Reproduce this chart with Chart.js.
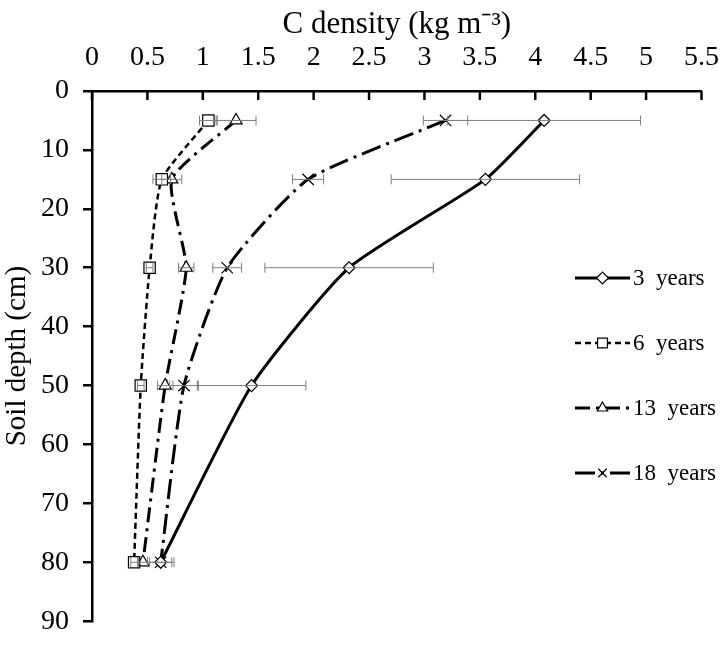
<!DOCTYPE html>
<html>
<head>
<meta charset="utf-8">
<script src="https://cdn.jsdelivr.net/npm/chart.js@4.4.1/dist/chart.umd.min.js"></script>
<style>
html, body { margin: 0; padding: 0; background: #fff; }
</style>
</head>
<body>
<canvas id="myChart" width="728" height="652"></canvas>
<script>
// soil depth (cm) of each sampling layer
const depths = [5, 15, 30, 50, 80];
const seriesNames = ['3  years', '6  years', '13  years', '18  years'];

// C density (kg m-3) and error (+/-) per stand age
const density3 = [4.08, 3.55, 2.32, 1.44, 0.62];
const error3 = [0.87, 0.85, 0.76, 0.49, 0.10];
const density6 = [1.05, 0.63, 0.52, 0.44, 0.38];
const error6 = [0.08, 0.08, 0.03, 0.03, 0.03];
const density13 = [1.30, 0.72, 0.85, 0.66, 0.46];
const error13 = [0.18, 0.09, 0.07, 0.07, 0.04];
const density18 = [3.19, 1.95, 1.22, 0.83, 0.62];
const error18 = [0.20, 0.14, 0.13, 0.13, 0.12];

// axis ticks
const xTicks = [0, 0.5, 1, 1.5, 2, 2.5, 3, 3.5, 4, 4.5, 5, 5.5];
const yTicks = [0, 10, 20, 30, 40, 50, 60, 70, 80, 90];

const FONT = '"Liberation Serif", "Times New Roman", serif';

function points(vals, errs) {
    return vals.map((v, i) => ({ x: v, y: depths[i], err: errs[i] }));
}

const errorBars = {
    id: 'errorBars',
    afterDatasetsDraw(chart) {
        const { ctx, scales: { x, y } } = chart;
        ctx.save();
        ctx.strokeStyle = '#7f7f7f';
        ctx.lineWidth = 1;
        chart.data.datasets.forEach(ds => {
            ds.data.forEach(p => {
                const x1 = x.getPixelForValue(p.x - p.err);
                const x2 = x.getPixelForValue(p.x + p.err);
                const py = y.getPixelForValue(p.y);
                ctx.beginPath();
                ctx.moveTo(x1, py); ctx.lineTo(x2, py);
                ctx.moveTo(x1, py - 5); ctx.lineTo(x1, py + 5);
                ctx.moveTo(x2, py - 5); ctx.lineTo(x2, py + 5);
                ctx.stroke();
            });
        });
        ctx.restore();
    }
};

// tick marks of the top axis point down into the plot
const innerTicks = {
    id: 'innerTicks',
    afterDraw(chart) {
        const { ctx, scales: { x } } = chart;
        ctx.save();
        ctx.strokeStyle = '#000';
        ctx.lineWidth = 2.5;
        x.ticks.forEach(t => {
            const px = x.getPixelForValue(t.value);
            ctx.beginPath();
            ctx.moveTo(px, x.bottom);
            ctx.lineTo(px, x.bottom + 9);
            ctx.stroke();
        });
        ctx.restore();
    }
};

// legend with line sample + marker, drawn on the right side
const sideLegend = {
    id: 'sideLegend',
    afterDraw(chart) {
        const { ctx } = chart;
        const x0 = 575, x1 = 630, top = 278, step = 65;
        ctx.save();
        chart.data.datasets.forEach((ds, i) => {
            const ly = top + i * step;
            ctx.strokeStyle = '#000';
            ctx.lineWidth = ds.borderWidth;
            ctx.setLineDash(ds.borderDash || []);
            ctx.beginPath();
            ctx.moveTo(x0, ly); ctx.lineTo(x1, ly);
            ctx.stroke();
            ctx.setLineDash([]);
            ctx.fillStyle = '#fff';
            ctx.lineWidth = 1.2;
            Chart.helpers.drawPoint(ctx, {
                pointStyle: ds.pointStyle,
                radius: ds.legendRadius,
                rotation: 0,
                borderWidth: 1.2
            }, (x0 + x1) / 2, ly);
            ctx.fillStyle = '#000';
            ctx.font = '23px ' + FONT;
            ctx.textAlign = 'left';
            ctx.textBaseline = 'middle';
            ctx.fillText(ds.label, x1 + 3, ly + 1);
        });
        ctx.restore();
    }
};

const common = {
    borderColor: '#000',
    pointBackgroundColor: '#fff',
    pointBorderColor: '#000',
    pointBorderWidth: 1.2,
    tension: 0.18,
    fill: false
};

new Chart(document.getElementById('myChart'), {
    type: 'line',
    data: {
        datasets: [
            Object.assign({}, common, {
                label: seriesNames[0], data: points(density3, error3),
                borderWidth: 3, borderDash: [],
                pointStyle: 'rectRot', pointRadius: 6, legendRadius: 6
            }),
            Object.assign({}, common, {
                label: seriesNames[1], data: points(density6, error6),
                borderWidth: 2.5, borderDash: [6, 4],
                pointStyle: 'rect', pointRadius: 8, legendRadius: 7
            }),
            Object.assign({}, common, {
                label: seriesNames[2], data: points(density13, error13),
                borderWidth: 3, borderDash: [15, 6, 3, 6],
                pointStyle: 'triangle', pointRadius: 7, legendRadius: 6
            }),
            Object.assign({}, common, {
                label: seriesNames[3], data: points(density18, error18),
                borderWidth: 3, borderDash: [20, 6, 3, 6],
                pointStyle: 'crossRot', pointRadius: 8, legendRadius: 6
            })
        ]
    },
    options: {
        responsive: false,
        animation: false,
        layout: { padding: { top: 0, left: 0, right: 20, bottom: 16 } },
        scales: {
            x: {
                type: 'linear',
                position: 'top',
                min: 0,
                max: 5.5,
                afterBuildTicks: s => { s.ticks = xTicks.map(v => ({ value: v })); },
                afterFit: s => { s.height = 91; },
                ticks: {
                    color: '#000',
                    padding: 9,
                    maxRotation: 0,
                    font: { family: FONT, size: 28 },
                    callback: v => String(v)
                },
                grid: { display: false },
                border: { display: true, color: '#000', width: 2.5 },
                title: {
                    display: true,
                    text: 'C density (kg m\u207B\u00B3)',
                    color: '#000',
                    padding: { top: 6, bottom: 0 },
                    font: { family: FONT, size: 31 }
                }
            },
            y: {
                type: 'linear',
                reverse: true,
                min: 0,
                max: 90,
                afterBuildTicks: s => { s.ticks = yTicks.map(v => ({ value: v })); },
                afterFit: s => { s.width = 92; },
                ticks: {
                    color: '#000',
                    padding: 14,
                    font: { family: FONT, size: 28 },
                    callback: v => String(v)
                },
                grid: {
                    display: true,
                    drawOnChartArea: false,
                    drawTicks: true,
                    tickLength: 9,
                    color: '#000',
                    lineWidth: 2.5
                },
                border: { display: true, color: '#000', width: 2.5 },
                title: {
                    display: true,
                    text: 'Soil depth (cm)',
                    color: '#000',
                    padding: { top: 0, bottom: 0 },
                    font: { family: FONT, size: 29 }
                }
            }
        },
        plugins: {
            legend: { display: false },
            tooltip: { enabled: false }
        }
    },
    plugins: [errorBars, innerTicks, sideLegend]
});
</script>
</body>
</html>
